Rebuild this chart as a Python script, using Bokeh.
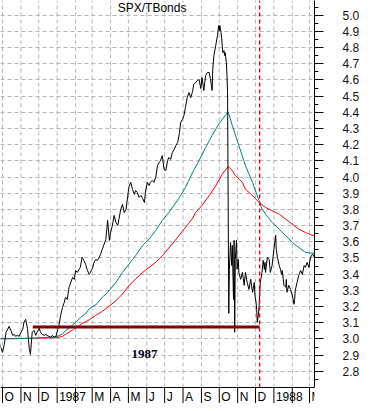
import pandas as pd
from bokeh.plotting import figure
from bokeh.models import (Range1d, FixedTicker, Span, Label, LabelSet,
                          ColumnDataSource, PrintfTickFormatter)
from bokeh.core.properties import value
from bokeh.embed import file_html
from bokeh.resources import INLINE

# ---------------- data ----------------
ratio_dates = [
    "1986-09-14", "1986-09-17", "1986-09-18", "1986-09-21", "1986-09-25", "1986-09-28",
    "1986-10-01", "1986-10-04", "1986-10-07", "1986-10-09", "1986-10-12", "1986-10-15",
    "1986-10-18", "1986-10-21", "1986-10-23", "1986-10-26", "1986-10-29", "1986-11-01",
    "1986-11-04", "1986-11-06", "1986-11-09", "1986-11-12", "1986-11-15", "1986-11-17",
    "1986-11-20", "1986-11-23", "1986-11-26", "1986-11-28", "1986-12-02", "1986-12-04",
    "1986-12-07", "1986-12-10", "1986-12-13", "1986-12-15", "1986-12-18", "1986-12-21",
    "1986-12-24", "1986-12-27", "1986-12-30", "1987-01-02", "1987-01-04", "1987-01-07",
    "1987-01-10", "1987-01-13", "1987-01-15", "1987-01-18", "1987-01-21", "1987-01-24",
    "1987-01-27", "1987-01-30", "1987-02-01", "1987-02-04", "1987-02-07", "1987-02-09",
    "1987-02-12", "1987-02-15", "1987-02-18", "1987-02-21", "1987-02-24", "1987-02-26",
    "1987-03-02", "1987-03-04", "1987-03-07", "1987-03-10", "1987-03-13", "1987-03-15",
    "1987-03-18", "1987-03-24", "1987-03-27", "1987-03-30", "1987-04-01", "1987-04-04",
    "1987-04-07", "1987-04-10", "1987-04-13", "1987-04-15", "1987-04-18", "1987-04-21",
    "1987-04-24", "1987-04-27", "1987-04-30", "1987-05-02", "1987-05-05", "1987-05-08",
    "1987-05-11", "1987-05-13", "1987-05-16", "1987-05-19", "1987-05-22", "1987-05-25",
    "1987-05-28", "1987-05-30", "1987-06-02", "1987-06-05", "1987-06-07", "1987-06-10",
    "1987-06-13", "1987-06-16", "1987-06-19", "1987-06-22", "1987-06-24", "1987-06-27",
    "1987-06-30", "1987-07-03", "1987-07-06", "1987-07-08", "1987-07-11", "1987-07-14",
    "1987-07-17", "1987-07-20", "1987-07-23", "1987-07-26", "1987-07-28", "1987-07-31",
    "1987-08-03", "1987-08-05", "1987-08-08", "1987-08-11", "1987-08-14", "1987-08-17",
    "1987-08-19", "1987-08-22", "1987-08-25", "1987-08-28", "1987-08-31", "1987-09-02",
    "1987-09-05", "1987-09-08", "1987-09-11", "1987-09-14", "1987-09-16", "1987-09-19",
    "1987-09-20", "1987-09-22", "1987-09-25", "1987-09-28", "1987-09-30", "1987-10-01",
    "1987-10-02", "1987-10-04", "1987-10-05", "1987-10-06", "1987-10-07", "1987-10-09",
    "1987-10-10", "1987-10-11", "1987-10-13", "1987-10-14", "1987-10-15", "1987-10-17",
    "1987-10-18", "1987-10-20", "1987-10-22", "1987-10-23", "1987-10-25", "1987-10-26",
    "1987-10-27", "1987-10-28", "1987-10-30", "1987-10-31", "1987-11-02", "1987-11-03",
    "1987-11-06", "1987-11-09", "1987-11-12", "1987-11-14", "1987-11-17", "1987-11-20",
    "1987-11-23", "1987-11-26", "1987-11-29", "1987-11-30", "1987-12-02", "1987-12-03",
    "1987-12-04", "1987-12-06", "1987-12-07", "1987-12-09", "1987-12-10", "1987-12-12",
    "1987-12-14", "1987-12-16", "1987-12-17", "1987-12-18", "1987-12-21", "1987-12-24",
    "1987-12-26", "1987-12-29", "1988-01-01", "1988-01-04", "1988-01-05", "1988-01-07",
    "1988-01-10", "1988-01-12", "1988-01-14", "1988-01-15", "1988-01-18", "1988-01-21",
    "1988-01-22", "1988-01-23", "1988-01-26", "1988-01-29", "1988-02-01", "1988-02-04",
    "1988-02-05", "1988-02-06", "1988-02-09", "1988-02-12", "1988-02-15", "1988-02-18",
    "1988-02-21", "1988-02-23", "1988-02-26", "1988-02-29", "1988-03-02", "1988-03-04",
    "1988-03-07", "1988-03-09",
]
ratio_values = [
    3.022, 2.998, 2.917, 3.065, 2.991, 2.948,
    2.917, 2.967, 3.041, 3.053, 3.078, 3.053,
    3.022, 3.028, 3.016, 3.022, 3.016, 3.041,
    3.059, 3.102, 3.121, 3.065, 2.942, 2.905,
    3.041, 3.053, 3.022, 3.041, 3.065, 3.041,
    3.028, 3.022, 3.028, 3.022, 3.016, 3.010,
    3.022, 3.010, 3.016, 3.059, 3.084, 3.146,
    3.195, 3.226, 3.257, 3.244, 3.319, 3.349,
    3.380, 3.368, 3.423, 3.411, 3.430, 3.442,
    3.504, 3.485, 3.460, 3.423, 3.399, 3.411,
    3.442, 3.473, 3.491, 3.485, 3.504, 3.522,
    3.553, 3.615, 3.732, 3.609, 3.658, 3.701,
    3.763, 3.720, 3.701, 3.738, 3.800, 3.831,
    3.781, 3.800, 3.886, 3.942, 3.967, 3.923,
    3.893, 3.917, 3.905, 3.874, 3.886, 3.868,
    3.843, 3.917, 3.967, 3.948, 3.967, 3.979,
    3.967, 3.998, 4.072, 4.090, 4.102, 4.133,
    4.047, 4.041, 4.102, 4.121, 4.109, 4.152,
    4.170, 4.195, 4.214, 4.275, 4.337, 4.356,
    4.386, 4.430, 4.491, 4.522, 4.491, 4.528,
    4.572, 4.584, 4.596, 4.602, 4.547, 4.615,
    4.535, 4.627, 4.646, 4.646, 4.609, 4.535,
    4.664, 4.751, 4.812, 4.874, 4.936, 4.905,
    4.936, 4.893, 4.862, 4.812, 4.769, 4.781,
    4.751, 4.769, 4.707, 4.627, 4.522, 3.158,
    3.430, 3.596, 3.454, 3.578, 3.244, 3.609,
    3.041, 3.491, 3.609, 3.430, 3.491, 3.411,
    3.368, 3.411, 3.331, 3.411, 3.349, 3.306,
    3.368, 3.288, 3.349, 3.269, 3.226, 3.183,
    3.102, 3.152, 3.195, 3.349, 3.368, 3.411,
    3.485, 3.430, 3.473, 3.411, 3.504, 3.491,
    3.411, 3.454, 3.553, 3.640, 3.553, 3.504,
    3.454, 3.430, 3.399, 3.423, 3.331, 3.319,
    3.368, 3.288, 3.331, 3.306, 3.269, 3.214,
    3.244, 3.300, 3.349, 3.393, 3.423, 3.399,
    3.454, 3.442, 3.473, 3.442, 3.491, 3.516,
    3.522, 3.504,
]

ma_fast_dates = [
    "1986-09-14", "1986-10-18", "1986-11-20", "1986-12-30", "1987-01-04", "1987-01-10",
    "1987-01-15", "1987-01-21", "1987-01-27", "1987-02-01", "1987-02-07", "1987-02-12",
    "1987-02-18", "1987-02-24", "1987-03-02", "1987-03-07", "1987-03-13", "1987-03-18",
    "1987-03-27", "1987-04-10", "1987-04-21", "1987-05-02", "1987-05-13", "1987-05-25",
    "1987-06-05", "1987-06-16", "1987-06-27", "1987-07-08", "1987-07-26", "1987-08-05",
    "1987-08-17", "1987-08-28", "1987-09-08", "1987-09-19", "1987-09-30", "1987-10-11",
    "1987-10-16", "1987-10-23", "1987-11-03", "1987-11-14", "1987-11-26", "1987-12-02",
    "1987-12-07", "1987-12-12", "1987-12-18", "1987-12-29", "1988-01-10", "1988-01-21",
    "1988-02-01", "1988-02-12", "1988-02-23", "1988-03-03", "1988-03-09",
]
ma_fast_values = [
    3.001, 3.001, 3.004, 3.013, 3.020, 3.030,
    3.051, 3.065, 3.086, 3.102, 3.123, 3.140,
    3.155, 3.186, 3.201, 3.210, 3.235, 3.257,
    3.288, 3.349, 3.411, 3.462, 3.514, 3.578,
    3.617, 3.670, 3.732, 3.781, 3.874, 3.936,
    4.028, 4.102, 4.183, 4.257, 4.327, 4.380,
    4.403, 4.319, 4.195, 4.072, 3.967, 3.905,
    3.856, 3.802, 3.771, 3.720, 3.678, 3.638,
    3.596, 3.565, 3.535, 3.530, 3.530,
]

ma_slow_dates = [
    "1986-09-14", "1986-11-20", "1986-12-30", "1987-01-10", "1987-01-15", "1987-01-21",
    "1987-01-27", "1987-02-01", "1987-02-07", "1987-02-12", "1987-02-18", "1987-02-24",
    "1987-03-02", "1987-03-07", "1987-03-13", "1987-03-18", "1987-03-27", "1987-04-10",
    "1987-04-21", "1987-05-02", "1987-05-13", "1987-05-25", "1987-06-05", "1987-06-16",
    "1987-06-27", "1987-07-14", "1987-07-31", "1987-08-17", "1987-08-22", "1987-09-02",
    "1987-09-14", "1987-09-25", "1987-10-06", "1987-10-16", "1987-10-23", "1987-10-28",
    "1987-11-09", "1987-11-14", "1987-11-26", "1987-12-07", "1987-12-18", "1987-12-29",
    "1988-01-10", "1988-01-21", "1988-02-01", "1988-02-12", "1988-02-23", "1988-03-05",
    "1988-03-09",
]
ma_slow_values = [
    3.001, 3.004, 3.007, 3.016, 3.028, 3.041,
    3.056, 3.069, 3.081, 3.096, 3.106, 3.118,
    3.133, 3.146, 3.158, 3.170, 3.195, 3.236,
    3.277, 3.329, 3.370, 3.411, 3.442, 3.473,
    3.514, 3.587, 3.665, 3.744, 3.781, 3.825,
    3.885, 3.946, 4.018, 4.065, 4.041, 4.010,
    3.967, 3.925, 3.886, 3.843, 3.812, 3.792,
    3.771, 3.740, 3.709, 3.678, 3.658, 3.641,
    3.638,
]

level_dates = ["1986-11-21", "1987-12-08"]
level_value = 3.073
marker_date = "1987-12-08"

month_starts = [
    "1986-10-01", "1986-11-01", "1986-12-01", "1987-01-01", "1987-02-01", "1987-03-01",
    "1987-04-01", "1987-05-01", "1987-06-01", "1987-07-01", "1987-08-01", "1987-09-01",
    "1987-10-01", "1987-11-01", "1987-12-01", "1988-01-01", "1988-02-01", "1988-03-01",
]
month_label_dates = [
    "1986-10-01", "1986-11-01", "1986-12-01", "1987-01-01", "1987-03-01", "1987-04-01",
    "1987-05-01", "1987-06-01", "1987-07-01", "1987-08-01", "1987-09-01", "1987-10-01",
    "1987-11-01", "1987-12-01", "1988-01-01", "1988-03-01",
]
month_labels = ["O", "N", "D", "1987", "M", "A", "M", "J", "J", "A", "S", "O", "N", "D",
                "1988", "M"]

y_ticks = [2.8, 2.9, 3.0, 3.1, 3.2, 3.3, 3.4, 3.5, 3.6, 3.7, 3.8, 3.9, 4.0, 4.1, 4.2,
           4.3, 4.4, 4.5, 4.6, 4.7, 4.8, 4.9, 5.0]
y_minor_ticks = [2.75, 2.85, 2.95, 3.05, 3.15, 3.25, 3.35, 3.45, 3.55, 3.65, 3.75, 3.85,
                 3.95, 4.05, 4.15, 4.25, 4.35, 4.45, 4.55, 4.65, 4.75, 4.85, 4.95, 5.05]

title_text = "SPX/TBonds"
title_date = "1987-04-13"
title_y = 5.047
year_text = "1987"
year_date = "1987-05-28"
year_y = 2.905

# layout constants (value scale positions of the axis strip)
y_top = 5.091
y_axis_at = 2.7
y_bottom = 2.601
label_y = 2.614


def ms(d):
    return pd.Timestamp(d).value / 1e6


# ---------------- figure ----------------
p = figure(width=363, height=403, x_axis_type="datetime", y_axis_location="right",
           x_range=Range1d(ms("1986-09-27 14:00"), ms("1988-03-09 10:00")),
           y_range=Range1d(y_bottom, y_top),
           toolbar_location=None, output_backend="svg",
           min_border_left=0, min_border_right=49, min_border_top=0, min_border_bottom=0)
p.outline_line_color = None
p.background_fill_color = "white"
p.border_fill_color = "white"
p.xaxis.visible = False
p.xgrid.visible = False

yt = FixedTicker(ticks=y_ticks, minor_ticks=y_minor_ticks)
ya = p.yaxis[0]
ya.ticker = yt
ya.bounds = (y_axis_at, y_top)
ya.formatter = PrintfTickFormatter(format="%.1f")
ya.major_tick_out = 9
ya.major_tick_in = 0
ya.minor_tick_out = 4
ya.minor_tick_in = 0
ya.major_label_standoff = 19
ya.major_label_text_font = "Liberation Sans"
ya.major_label_text_font_size = "12px"
ya.major_label_text_color = "#111111"
ya.axis_line_color = "black"
ya.major_tick_line_color = "black"
ya.minor_tick_line_color = "black"

p.ygrid.ticker = yt
p.ygrid[0].grid_line_color = "#b4b4b4"
p.ygrid[0].grid_line_dash = "4 3"
p.ygrid[0].grid_line_width = 1

month_x = pd.to_datetime(month_starts)
n_m = len(month_starts)
# vertical dashed grid at each month start (stops at the time axis line)
p.segment(x0=month_x, y0=[y_axis_at] * n_m, x1=month_x, y1=[y_top] * n_m,
          line_color="#b4b4b4", line_dash="4 3", line_width=1, level="underlay")
# time axis line and the month separators under it
p.add_layout(Span(location=y_axis_at, dimension="width", line_color="black", line_width=1))
p.segment(x0=month_x, y0=[y_axis_at] * n_m, x1=month_x, y1=[y_bottom] * n_m,
          line_color="black", line_width=1)

slow_src = ColumnDataSource(data=dict(x=pd.to_datetime(ma_slow_dates), y=ma_slow_values))
fast_src = ColumnDataSource(data=dict(x=pd.to_datetime(ma_fast_dates), y=ma_fast_values))
ratio_src = ColumnDataSource(data=dict(x=pd.to_datetime(ratio_dates), y=ratio_values))

p.line("x", "y", source=slow_src, line_color="#ff0000", line_width=1)
p.line("x", "y", source=fast_src, line_color="#008080", line_width=1)
p.line("x", "y", source=ratio_src, line_color="black", line_width=1)

p.line(pd.to_datetime(level_dates), [level_value] * len(level_dates),
       line_color="#800000", line_width=3)

mx = pd.to_datetime([marker_date])
p.segment(x0=mx, y0=[y_axis_at], x1=mx, y1=[y_top], line_color="#ee0000",
          line_dash="4 3", line_width=1.4)

p.add_layout(Label(x=ms(title_date), y=title_y, text=title_text, text_font="Liberation Sans",
                   text_font_size="12px", text_align="left", text_baseline="alphabetic",
                   text_color="black"))
p.add_layout(Label(x=ms(year_date), y=year_y, text=year_text, text_font="Liberation Serif",
                   text_font_style="bold", text_font_size="13px", text_align="center",
                   text_baseline="alphabetic", text_color="#000022"))

lab_src = ColumnDataSource(data=dict(x=pd.to_datetime(month_label_dates),
                                     y=[label_y] * len(month_labels), text=month_labels))
p.add_layout(LabelSet(x="x", y="y", text="text", source=lab_src, x_offset=2,
                      text_font=value("Liberation Sans"), text_font_size="12px",
                      text_align="left", text_baseline="alphabetic", text_color="black"))

open("out.html", "w").write(file_html(p, INLINE))
